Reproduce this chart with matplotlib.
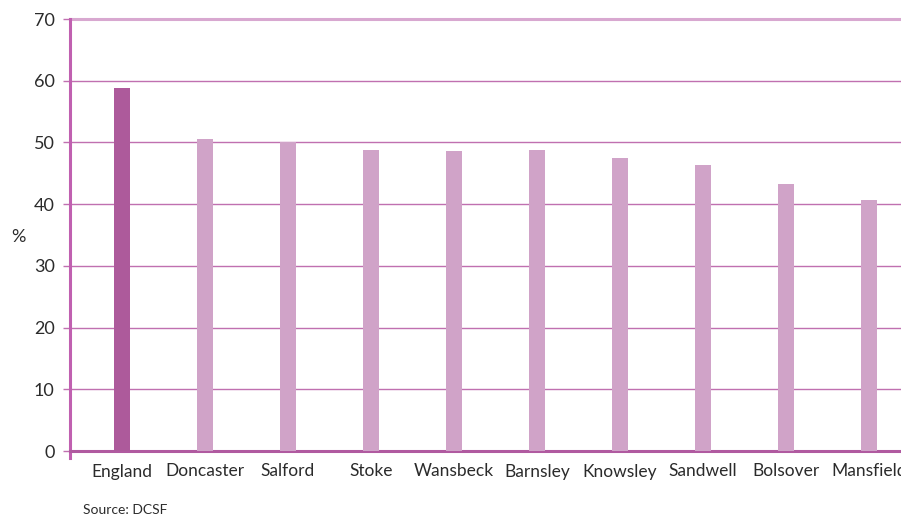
import matplotlib
matplotlib.use("Agg")
import matplotlib.pyplot as plt

categories = ["England", "Doncaster", "Salford", "Stoke", "Wansbeck", "Barnsley",
              "Knowsley", "Sandwell", "Bolsover", "Mansfield"]
values = [58.8, 50.6, 50.1, 48.8, 48.6, 48.8, 47.5, 46.3, 43.2, 40.6]
yticks = [0, 10, 20, 30, 40, 50, 60, 70]

plt.rcParams['font.family'] = ['Lato', 'DejaVu Sans']
W, H = 901, 518
fig = plt.figure(figsize=(W/100, H/100), dpi=100)
ax = fig.add_axes([70/W, (H-451)/H, (W-70)/W, 432/H])

colors = ["#ad5a9b"] + ["#d0a3c8"] * (len(categories) - 1)
x = list(range(len(categories)))
ax.bar(x, values, width=16/83, color=colors, zorder=3)

ax.set_xlim(-0.627, (W - 122) / 83)
ax.set_ylim(0, 70)
ax.set_yticks(yticks)
ax.set_yticklabels([str(t) for t in yticks], fontsize=13, color="#2b2b2b")
ax.set_xticks(x)
ax.set_xticklabels(categories, fontsize=12.5, color="#2b2b2b")
ax.tick_params(axis='x', length=0, pad=9)
ax.tick_params(axis='y', length=5, color="#c070b0", width=1.0, pad=6)

for t in yticks[1:-1]:
    ax.axhline(t, color="#c070b0", lw=1.0, zorder=1)
ax.axhline(70, color="#d8a8d0", lw=2.2, zorder=1, clip_on=False)

for s in ["top", "right"]:
    ax.spines[s].set_visible(False)
ax.spines["left"].set_color("#c060b0")
ax.spines["left"].set_linewidth(2.2)
ax.spines["left"].set_bounds(-1.1, 70)
ax.spines["bottom"].set_color("#b05aa0")
ax.spines["bottom"].set_linewidth(2.2)

fig.text(18/W, 1 - 237/H, "%", fontsize=13, color="#2b2b2b", ha="center", va="center")
fig.text(83/W, 1 - 510/H, "Source: DCSF", fontsize=10, color="#2b2b2b", ha="left", va="center")

fig.savefig("out.png", dpi=100)
